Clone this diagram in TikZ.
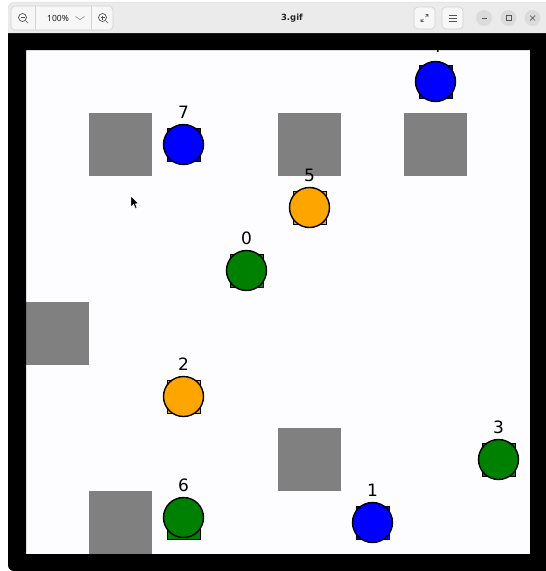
\documentclass[tikz,border=0pt]{standalone}
\usepackage{fontspec}
\setmainfont{DejaVu Sans}
\newfontfamily\uifont{Noto Sans}
\definecolor{obst}{HTML}{808080}
\definecolor{ablue}{HTML}{0000FF}
\definecolor{agreen}{HTML}{008000}
\definecolor{aorange}{HTML}{FFA500}
\definecolor{barbg}{HTML}{EBEBEB}
\definecolor{btnbg}{HTML}{F7F7F7}
\definecolor{btnln}{HTML}{D2D2D2}
\definecolor{icon}{HTML}{555555}
\definecolor{canvas}{HTML}{FDFCFE}
\tikzset{
  obstacle/.style={fill=obst, draw=none},
  agentsq/.style={draw=black, line width=0.8pt, minimum size=33pt, inner sep=0pt, shape=rectangle},
  agent/.style={circle, draw=black, line width=1.4pt, minimum size=40pt, inner sep=0pt},
  agentlabel/.style={font=\fontsize{17}{17}\selectfont, anchor=base, inner sep=0pt},
  winbtn/.style={circle, fill=btnln!80, minimum size=16pt, inner sep=0pt},
  toolbtn/.style={rounded corners=4pt, fill=btnbg, draw=btnln, line width=0.6pt},
}
\begin{document}
\begin{tikzpicture}[x=1pt,y=-1pt]
\useasboundingbox (0,0) rectangle (546,571);
\fill[white] (0,0) rectangle (546,571);
% canvas
\fill[canvas] (26,50) rectangle (530,554);
% obstacles
\fill[obstacle] (89,113) rectangle (152,176);
\fill[obstacle] (278,113) rectangle (341,176);
\fill[obstacle] (404,113) rectangle (467,176);
\fill[obstacle] (26,302) rectangle (89,365);
\fill[obstacle] (278,428) rectangle (341,491);
\fill[obstacle] (89,491) rectangle (152,554);
% agents: squares
\node[agentsq, fill=ablue] (s7) at (183.5,144.5) {};
\node[agentsq, fill=ablue] (s4) at (435.5,81.5) {};
\node[agentsq, fill=aorange] (s5) at (309.5,207.5) {};
\node[agentsq, fill=agreen] (s0) at (246.5,270.5) {};
\node[agentsq, fill=aorange] (s2) at (183.5,396.5) {};
\node[agentsq, fill=agreen] (s3) at (498.5,459.5) {};
\node[agentsq, fill=agreen] (s6) at (183.5,523) {};
\node[agentsq, fill=ablue] (s1) at (372.5,522.5) {};
% agents: circles
\node[agent, fill=ablue] (a7) at (183.5,144.5) {};
\node[agent, fill=ablue] (a4) at (435.5,81.5) {};
\node[agent, fill=aorange] (a5) at (309.5,207.5) {};
\node[agent, fill=agreen] (a0) at (246.5,270.5) {};
\node[agent, fill=aorange] (a2) at (183.5,396.5) {};
\node[agent, fill=agreen] (a3) at (498.5,459.5) {};
\node[agent, fill=agreen] (a6) at (183.5,517.5) {};
\node[agent, fill=ablue] (a1) at (372.5,522.5) {};
% labels
\node[agentlabel] (l7) at (183.5,118) {7};
\node[agentlabel] (l4) at (436,52.5) {4};
\node[agentlabel] (l5) at (309.5,181) {5};
\node[agentlabel] (l0) at (246.5,244) {0};
\node[agentlabel] (l2) at (183.5,370) {2};
\node[agentlabel] (l3) at (498.5,433) {3};
\node[agentlabel] (l6) at (183.5,491) {6};
\node[agentlabel] (l1) at (372.5,496) {1};
% mouse cursor
\filldraw[fill=black, draw=white, line width=0.4pt]
  (131,196) -- (131,207) -- (133.6,204.4) -- (135.4,208.4) -- (137,207.7) -- (135.2,203.8) -- (138.6,203.6) -- cycle;
% black frame
\fill[black, even odd rule] (8,33) -- (546,33) -- (546,571) -- (14,571) to[out=180,in=-90] (8,565) -- cycle
  (26,50) rectangle (530,554);
% title bar
\fill[barbg] (8,33) -- (8,9) to[out=90,in=180] (15,2) -- (546,2) -- (546,33) -- cycle;
\draw[btnln!70, line width=0.5pt] (8,9) to[out=90,in=180] (15,2) -- (546,2);
% left tool group
\draw[toolbtn] (11,6) rectangle (113,30);
\draw[btnln, line width=0.6pt] (35,6) -- (35,30) (91,6) -- (91,30);
% zoom out icon
\node[circle, draw=icon, line width=0.7pt, minimum size=8pt, inner sep=0pt] (zo) at (22.5,17.5) {};
\draw[icon, line width=0.7pt] (zo.south east) -- ++(2.5,2.5);
\draw[icon, line width=0.7pt] ([xshift=-2pt]zo.center) -- ([xshift=2pt]zo.center);
% 100%
\node[font=\uifont\fontsize{8.5}{9}\selectfont, text=black!90] (zoomval) at (58,18) {100\%};
\coordinate (chev) at (80,18);
\draw[icon!70, line width=0.6pt] ([xshift=-4.5pt,yshift=1.5pt]chev) -- ([yshift=-1.5pt]chev) -- ([xshift=4.5pt,yshift=1.5pt]chev);
% zoom in icon
\node[circle, draw=icon, line width=0.7pt, minimum size=8pt, inner sep=0pt] (zi) at (102.5,17.5) {};
\draw[icon, line width=0.7pt] (zi.south east) -- ++(2.5,2.5);
\draw[icon, line width=0.7pt] ([xshift=-2pt]zi.center) -- ([xshift=2pt]zi.center)
  ([yshift=-2pt]zi.center) -- ([yshift=2pt]zi.center);
% title
\node[font=\bfseries\fontsize{8.5}{9}\selectfont, text=black!85] (title) at (292,18) {3.gif};
% expand button
\draw[toolbtn] (414,7) rectangle (435,29);
\coordinate (exc) at (424.5,18);
\draw[icon, line width=0.6pt] ([xshift=-3.5pt,yshift=-3.5pt]exc) -- ([xshift=-1pt,yshift=-1pt]exc)
  ([xshift=-3.5pt,yshift=-1pt]exc) -- ([xshift=-3.5pt,yshift=-3.5pt]exc) -- ([xshift=-1pt,yshift=-3.5pt]exc)
  ([xshift=3.5pt,yshift=3.5pt]exc) -- ([xshift=1pt,yshift=1pt]exc)
  ([xshift=3.5pt,yshift=1pt]exc) -- ([xshift=3.5pt,yshift=3.5pt]exc) -- ([xshift=1pt,yshift=3.5pt]exc);
% menu button
\draw[toolbtn] (442,7) rectangle (463,29);
\coordinate (mnc) at (452.5,18);
\draw[icon, line width=0.7pt] ([xshift=-4pt,yshift=-3pt]mnc) -- ([xshift=4pt,yshift=-3pt]mnc)
  ([xshift=-4pt]mnc) -- ([xshift=4pt]mnc)
  ([xshift=-4pt,yshift=3pt]mnc) -- ([xshift=4pt,yshift=3pt]mnc);
% window buttons
\node[winbtn] (wmin) at (484,18) {};
\node[winbtn] (wmax) at (508.5,18) {};
\node[winbtn] (wcls) at (532.5,18) {};
\draw[icon, line width=0.7pt] ([xshift=-2.5pt]wmin.center) -- ([xshift=2.5pt]wmin.center);
\draw[icon, line width=0.6pt] ([xshift=-2.5pt,yshift=-2.5pt]wmax.center) rectangle ([xshift=2.5pt,yshift=2.5pt]wmax.center);
\draw[icon, line width=0.7pt] ([xshift=-2.5pt,yshift=-2.5pt]wcls.center) -- ([xshift=2.5pt,yshift=2.5pt]wcls.center)
  ([xshift=-2.5pt,yshift=2.5pt]wcls.center) -- ([xshift=2.5pt,yshift=-2.5pt]wcls.center);
\end{tikzpicture}
\end{document}
